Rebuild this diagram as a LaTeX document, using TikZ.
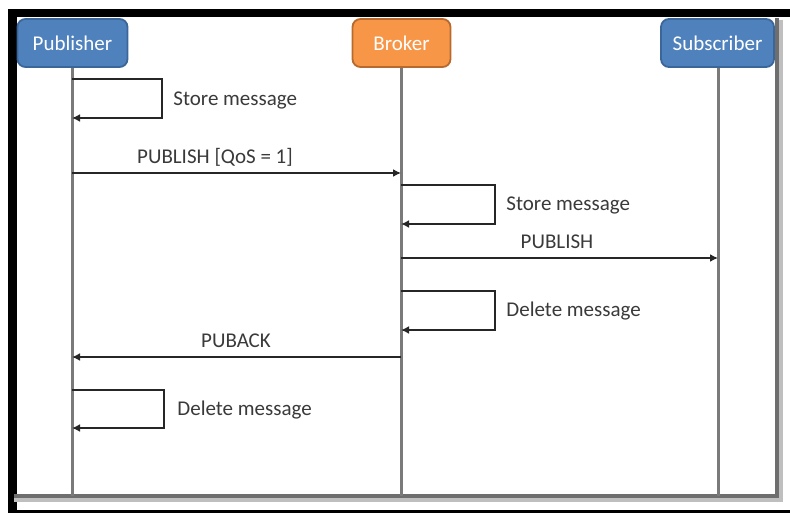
\documentclass[tikz,border=0pt]{standalone}
\usepackage{fontspec}
\setmainfont{Carlito}
\usetikzlibrary{arrows.meta}

\definecolor{hdrblue}{HTML}{4F81BD}
\definecolor{hdrblueline}{HTML}{3B6699}
\definecolor{hdrorange}{HTML}{F79646}
\definecolor{hdrorangeline}{HTML}{B8692E}
\definecolor{lifegray}{HTML}{7A7A7A}
\definecolor{txtgray}{HTML}{3A3A3A}

\tikzset{
  x=0.5pt, y=-0.5pt,
  header/.style={draw, line width=0.9pt, rounded corners=4pt, inner sep=0pt,
    text=white, font=\fontsize{10.5}{12}\selectfont},
  lifeline/.style={draw=lifegray, line width=1.5pt},
  msg/.style={draw=black!85, line width=1pt, -{Latex[length=4pt,width=4pt]}},
  label/.style={text=txtgray, font=\fontsize{10.5}{12}\selectfont, inner sep=0pt},
  frameline/.style={draw=lifegray!90!black, line width=1.6pt},
}

\begin{document}
\begin{tikzpicture}
  % page and outer black frame
  \fill[white] (0,0) rectangle (790,513);
  \useasboundingbox (0,0) rectangle (790,513);
  \fill[black] (8,9) rectangle (17,513);
  \fill[black] (8,9) rectangle (790,17);
  \fill[black] (8,510) rectangle (790,513);

  % inner panel edge with soft shadow
  \draw[draw=black!25, line width=3pt] (14,499) -- (780,499) -- (780,20);
  \draw[frameline] (14,496) -- (777,496) -- (777,18);

  % participants
  \node[header, fill=hdrblue, draw=hdrblueline, minimum width=55pt, minimum height=24pt]
    (pub) at (72.5,43) {Publisher};
  \node[header, fill=hdrorange, draw=hdrorangeline, minimum width=49pt, minimum height=24pt]
    (brk) at (401.5,43) {Broker};
  \node[header, fill=hdrblue, draw=hdrblueline, minimum width=56.5pt, minimum height=24pt]
    (sub) at (717.5,43) {Subscriber};

  % lifeline ends
  \coordinate (pubEnd) at (72,496);
  \coordinate (brkEnd) at (401,496);
  \coordinate (subEnd) at (718,496);
  \draw[lifeline] (pub.south -| pubEnd) -- (pubEnd);
  \draw[lifeline] (brk.south -| brkEnd) -- (brkEnd);
  \draw[lifeline] (sub.south -| subEnd) -- (subEnd);

  % anchor points on the lifelines
  \coordinate (p1) at (72,79);   \coordinate (p1b) at (72,118);
  \coordinate (p2) at (72,173);  \coordinate (b2) at (401,173);
  \coordinate (b3) at (401,185); \coordinate (b3b) at (401,224);
  \coordinate (b4) at (401,258); \coordinate (s4) at (718,258);
  \coordinate (b5) at (401,291); \coordinate (b5b) at (401,330);
  \coordinate (b6) at (401,357); \coordinate (p6) at (72,357);
  \coordinate (p7) at (72,390);  \coordinate (p7b) at (72,428);

  % publisher stores the message
  \draw[msg] (p1) -- ++(90,0) |- (p1b);
  \node[label, anchor=west] (l1) at (173,100) {Store message};

  % publish to broker
  \draw[msg] (p2) -- (b2);
  \node[label] (l2) at (215,157) {PUBLISH [QoS = 1]};

  % broker stores the message
  \draw[msg] (b3) -- ++(94,0) |- (b3b);
  \node[label, anchor=west] (l3) at (506,205) {Store message};

  % broker forwards to subscriber
  \draw[msg] (b4) -- (s4);
  \node[label] (l4) at (557,242) {PUBLISH};

  % broker deletes the message
  \draw[msg] (b5) -- ++(94,0) |- (b5b);
  \node[label, anchor=west] (l5) at (506,311) {Delete message};

  % acknowledgement back to publisher
  \draw[msg] (b6) -- (p6);
  \node[label] (l6) at (236,341) {PUBACK};

  % publisher deletes the message
  \draw[msg] (p7) -- ++(92,0) |- (p7b);
  \node[label, anchor=west] (l7) at (177,410) {Delete message};
\end{tikzpicture}
\end{document}
